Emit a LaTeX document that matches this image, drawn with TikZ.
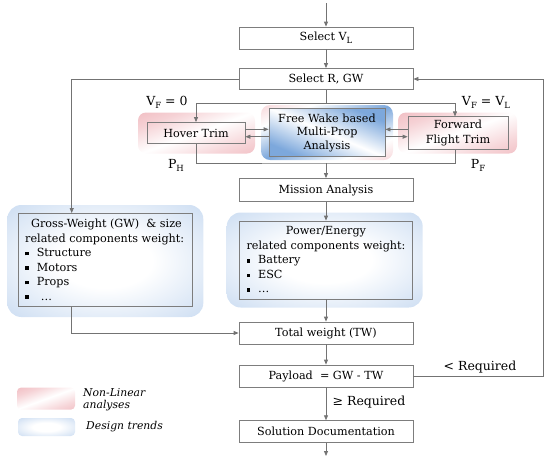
\documentclass[tikz,border=0pt]{standalone}
\usepackage{fontspec}
\setmainfont{DejaVu Serif}
\usetikzlibrary{arrows.meta,calc}
\definecolor{pinkc}{RGB}{236,165,172}
\definecolor{bluec}{RGB}{204,221,242}
\definecolor{bluefw}{RGB}{125,168,220}
\definecolor{linec}{RGB}{115,115,115}
\definecolor{boxc}{RGB}{125,125,125}
\pgfdeclarehorizontalshading{nonlin}{100bp}{color(0bp)=(pinkc); color(30bp)=(pinkc!50!white); color(50bp)=(white); color(70bp)=(pinkc!45!white); color(100bp)=(pinkc)}
\pgfdeclarehorizontalshading{fwshade}{100bp}{color(0bp)=(pinkc); color(30bp)=(white); color(50bp)=(bluefw); color(70bp)=(white); color(100bp)=(pinkc)}
\pgfdeclarehorizontalshading{fwin}{100bp}{color(0bp)=(bluefw); color(26bp)=(bluefw); color(50bp)=(white); color(74bp)=(bluefw); color(100bp)=(bluefw)}
\pgfdeclareradialshading{dtrend}{\pgfpoint{0bp}{0bp}}{color(0bp)=(white); color(12bp)=(white); color(36bp)=(bluec); color(50bp)=(bluec)}
\newcommand\lowsub[1]{\raisebox{-0.45ex}{\fontsize{8.5}{9}\selectfont #1}}
\newcommand\sqb{\raisebox{1.2pt}{\rule{3.6pt}{3.6pt}}\hspace{8pt}}
\begin{document}
\begin{tikzpicture}[x=1pt,y=-1pt,
  box/.style={draw=boxc, line width=0.8pt, minimum width=174pt, minimum height=22pt, inner sep=0pt, align=center, font=\fontsize{11.2}{14}\selectfont},
  listtxt/.style={inner sep=0pt, font=\fontsize{11.2}{14.5}\selectfont},
  arr/.style={draw=linec, line width=0.8pt, -{Triangle[length=5pt,width=4pt]}},
  ln/.style={draw=linec, line width=0.8pt},
  nlbg/.style={shade, shading=nonlin, shading angle=-70, rounded corners=8pt, inner sep=0pt, draw=none},
  fwbg/.style={shade, shading=fwshade, shading angle=-67, rounded corners=9pt, inner sep=0pt, draw=none},
  dtbg/.style={shade, shading=dtrend, rounded corners=14pt, inner sep=0pt, draw=none},
  lbl/.style={inner sep=0pt, font=\fontsize{12.5}{14}\selectfont},
  legtxt/.style={inner sep=0pt, anchor=west, align=left, font=\itshape\fontsize{10.8}{12}\selectfont}]
\useasboundingbox (0,0) rectangle (550,459);
% backgrounds
\node[nlbg, minimum width=117pt, minimum height=41pt] (hoverbg) at (196.5,133) {};
\node[fwbg, minimum width=132pt, minimum height=55pt] (fwbgn) at (327,132.5) {};
\node[nlbg, minimum width=119pt, minimum height=41pt] (fftbg) at (457.5,133) {};
\node[dtbg, minimum width=196pt, minimum height=112pt] (grossbg) at (105.3,261) {};
\node[dtbg, minimum width=196pt, minimum height=95pt] (powerbg) at (324.7,260) {};
\node[nlbg, rounded corners=4pt, minimum width=58pt, minimum height=22pt] (legnl) at (46,398.6) {};
\node[dtbg, rounded corners=4pt, minimum width=57pt, minimum height=18pt] (legdt) at (46.5,427) {};
% boxes
\node[box] (selVL) at (326,38) {Select V\lowsub{L}};
\node[box, minimum height=21pt] (selR) at (326,79) {Select R, GW};
\node[box, minimum width=98pt, minimum height=21pt] (hover) at (196,133) {Hover Trim};
\node[box, shade, shading=fwin, shading angle=67, minimum width=116pt, minimum height=48pt, font=\fontsize{11.2}{13.5}\selectfont] (fw) at (327,132.5) {Free Wake based\\Multi-Prop\\Analysis};
\node[box, minimum width=100pt, minimum height=33pt, font=\fontsize{11.2}{15}\selectfont] (fft) at (458,133.3) {Forward\\Flight Trim};
\node[box, minimum height=23pt] (mission) at (326,190) {Mission Analysis};
\node[box, minimum height=93pt] (gross) at (105.5,260) {};
\node[listtxt] (grosstxt) at (104.7,261) {\begin{tabular}{@{}l@{}}\multicolumn{1}{@{}c@{}}{\ Gross-Weight (GW)\ \ \& size}\\related components weight:\\\sqb Structure\\\sqb Motors\\\sqb Props\\\sqb\hspace{4pt}\dots\end{tabular}};
\node[box, minimum width=173pt, minimum height=78pt] (power) at (326,260) {};
\node[listtxt] (powertxt) at (326,261) {\begin{tabular}{@{}l@{}}\multicolumn{1}{@{}c@{}}{Power/Energy}\\related components weight:\\\sqb Battery\\\sqb ESC\\\sqb\dots\end{tabular}};
\node[box] (total) at (326,333) {Total weight (TW)};
\node[box] (payload) at (326,376) {Payload\ \ = GW - TW};
\node[box] (solution) at (326,431.7) {Solution Documentation};
% labels
\node[lbl] (vf0) at (167,102) {V\lowsub{F} = 0};
\node[lbl] (vfl) at (486,102) {V\lowsub{F} = V\lowsub{L}};
\node[lbl] (ph) at (176,165) {P\lowsub{H}};
\node[lbl] (pf) at (478,165) {P\lowsub{F}};
\node[lbl] (lreq) at (480,367) {< Required};
\node[lbl] (greq) at (369,402) {≥ Required};
\node[legtxt] (legnltxt) at (83,400) {Non-Linear\\analyses};
\node[legtxt] (legdttxt) at (86,427) {Design trends};
% coordinates
\coordinate (top) at (326,3);
\coordinate (split) at (326,103);
\coordinate (join) at (326,163);
\coordinate (bot) at (326,456);
\coordinate (fbx) at (543,0);
\coordinate (gx) at (71.7,0);
\coordinate (ffx) at (455,0);
\coordinate (h1) at ([yshift=3.7pt]hover.east);
\coordinate (h2) at ([yshift=-3.7pt]hover.east);
\coordinate (f1) at ([yshift=3.9pt]fft.west);
\coordinate (f2) at ([yshift=-3.4pt]fft.west);
% connectors
\draw[arr] (top) -- (selVL);
\draw[arr] (selVL) -- (selR);
\draw[ln] (selR) -- (split);
\draw[arr] (split) -| (hover.north);
\draw[arr] (split) -| (fft.north -| ffx);
\draw[arr] (h1) -- (h1 -| fw.west);
\draw[arr] (h2 -| fw.west) -- (h2);
\draw[arr] (f1) -- (f1 -| fw.east);
\draw[arr] (f2 -| fw.east) -- (f2);
\draw[ln] (hover.south) |- (join) -| (fft.south -| ffx);
\draw[arr] (join) -- (mission);
\draw[arr] (mission) -- (power);
\draw[arr] (power) -- (total);
\draw[arr] (total) -- (payload);
\draw[arr] (payload) -- (solution);
\draw[arr] (solution) -- (bot);
\draw[arr] (payload.east) -| (fbx |- selR.east) -- (selR.east);
\draw[arr] (selR.west) -| (gross.north -| gx);
\draw[arr] (gross.south -| gx) |- (total.west);
\end{tikzpicture}
\end{document}
